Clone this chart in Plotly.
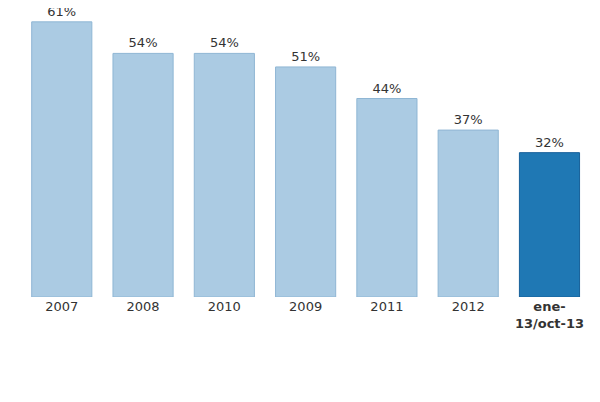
import plotly.graph_objects as go

categories = ["2007", "2008", "2010", "2009", "2011", "2012", "ene-13/oct-13"]
tick_labels = ["2007", "2008", "2010", "2009", "2011", "2012", "<b>ene-<br>13/oct-13</b>"]
values = [61, 54, 54, 51, 44, 37, 32]
text_labels = [f"{v}%" for v in values]

colors = ["#abcbe3"] * 6 + ["#1f78b4"]
lines = ["#8fb6d4"] * 6 + ["#17609a"]

fig = go.Figure(go.Bar(
    x=categories, y=values, text=text_labels, textposition="outside",
    marker=dict(color=colors, line=dict(color=lines, width=1)),
    textfont=dict(size=13, color="#333333"), cliponaxis=False, width=0.74,
))
fig.update_layout(
    width=600, height=402, margin=dict(l=5, r=26, t=3, b=113),
    plot_bgcolor="white", paper_bgcolor="white",
    font=dict(family="DejaVu Sans", size=13, color="#333333"),
    showlegend=False,
    xaxis=dict(tickvals=categories, ticktext=tick_labels, showgrid=False, ticks="",
               showline=False, range=[-0.6, 6.4], automargin=False),
    yaxis=dict(range=[0, 63.4], visible=False),
)
fig.write_html("out.html")
